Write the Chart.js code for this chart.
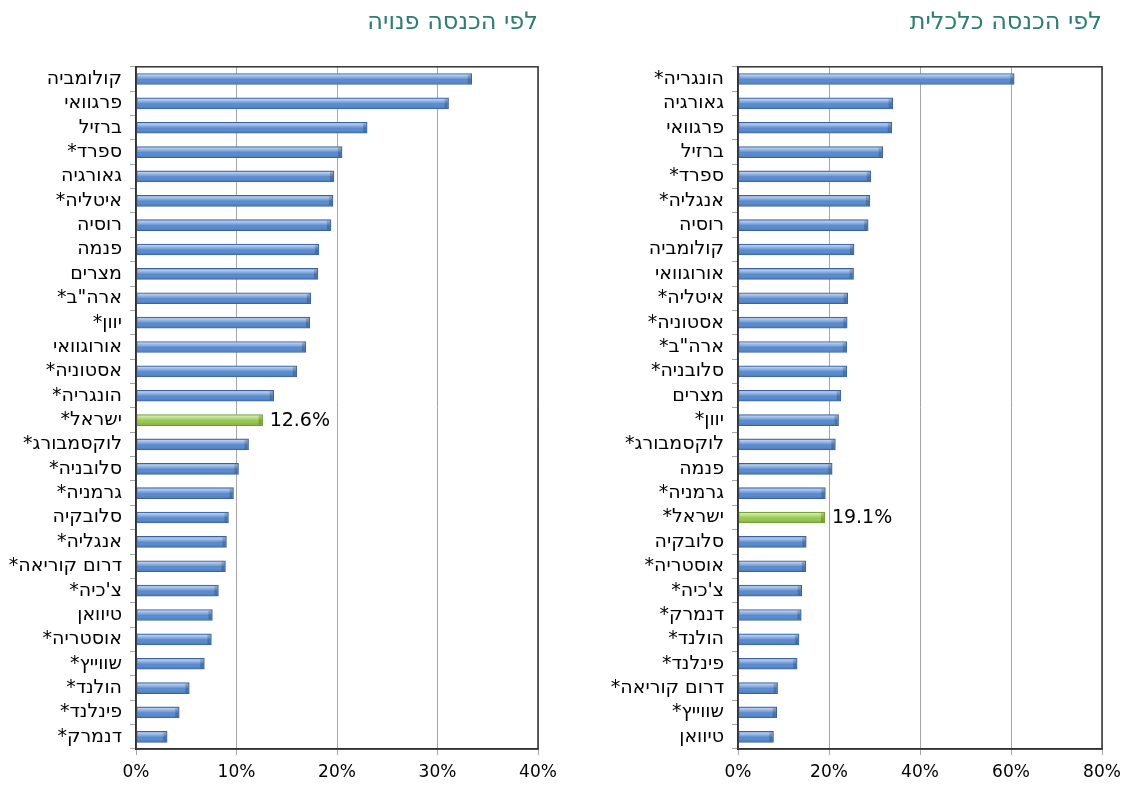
<!DOCTYPE html>
<html>
<head>
<meta charset="utf-8">
<script src="https://cdn.jsdelivr.net/npm/chart.js@4.4.0/dist/chart.umd.min.js"></script>
<style>
  body { margin: 0; background: #fff; overflow: hidden; }
  canvas { position: absolute; top: 0; }
  #disposable { left: 0; }
  #economic { left: 580px; }
</style>
</head>
<body>
<canvas id="disposable" width="560" height="785" dir="rtl"></canvas>
<canvas id="economic" width="547" height="785" dir="rtl"></canvas>
<script>
// לפי הכנסה פנויה
const disposableLabels = ['קולומביה', 'פרגוואי', 'ברזיל', 'ספרד*', 'גאורגיה', 'איטליה*', 'רוסיה', 'פנמה', 'מצרים', 'ארה"ב*',
  'יוון*', 'אורוגוואי', 'אסטוניה*', 'הונגריה*', 'ישראל*', 'לוקסמבורג*', 'סלובניה*', 'גרמניה*', 'סלובקיה', 'אנגליה*',
  'דרום קוריאה*', "צ'כיה*", 'טיוואן', 'אוסטריה*', 'שווייץ*', 'הולנד*', 'פינלנד*', 'דנמרק*'];
const disposableValues = [33.4, 31.1, 23.0, 20.5, 19.7, 19.6, 19.4, 18.2, 18.1, 17.4,
  17.3, 16.9, 16.0, 13.7, 12.6, 11.2, 10.2, 9.7, 9.2, 9.0,
  8.9, 8.2, 7.6, 7.5, 6.8, 5.3, 4.3, 3.1];

// לפי הכנסה כלכלית
const economicLabels = ['הונגריה*', 'גאורגיה', 'פרגוואי', 'ברזיל', 'ספרד*', 'אנגליה*', 'רוסיה', 'קולומביה', 'אורוגוואי', 'איטליה*',
  'אסטוניה*', 'ארה"ב*', 'סלובניה*', 'מצרים', 'יוון*', 'לוקסמבורג*', 'פנמה', 'גרמניה*', 'ישראל*', 'סלובקיה',
  'אוסטריה*', "צ'כיה*", 'דנמרק*', 'הולנד*', 'פינלנד*', 'דרום קוריאה*', 'שווייץ*', 'טיוואן'];
const economicValues = [60.7, 34.0, 33.8, 31.8, 29.2, 29.0, 28.6, 25.5, 25.4, 24.1,
  24.0, 23.9, 23.9, 22.6, 22.1, 21.4, 20.7, 19.2, 19.1, 15.0,
  14.9, 14.0, 13.9, 13.4, 13.0, 8.7, 8.5, 7.8];

const highlight = 'ישראל*';
const FONT = 'DejaVu Sans';

// shine on the bars + border round the plot + label for Israel
const barStyle = {
  id: 'barStyle',
  afterDatasetsDraw(chart) {
    const ctx = chart.ctx;
    const meta = chart.getDatasetMeta(0);
    ctx.save();
    meta.data.forEach((bar, i) => {
      const top = bar.y - bar.height / 2;
      const left = Math.min(bar.base, bar.x);
      const w = Math.abs(bar.x - bar.base);
      const g = ctx.createLinearGradient(0, top, 0, top + bar.height);
      g.addColorStop(0, 'rgba(255,255,255,0.75)');
      g.addColorStop(0.35, 'rgba(255,255,255,0.3)');
      g.addColorStop(0.55, 'rgba(255,255,255,0)');
      g.addColorStop(1, 'rgba(0,0,0,0.22)');
      ctx.fillStyle = g;
      ctx.fillRect(left + 1, top + 1, w - 2, bar.height - 2);
      // little end cap
      ctx.fillStyle = 'rgba(0,0,0,0.18)';
      ctx.fillRect(bar.x - 4, top + 1, 3, bar.height - 2);
    });
    const ca = chart.chartArea;
    ctx.strokeStyle = '#333';
    ctx.lineWidth = 1.5;
    ctx.strokeRect(ca.left, ca.top, ca.right - ca.left, ca.bottom - ca.top);

    const labels = chart.data.labels;
    const idx = labels.indexOf(highlight);
    if (idx >= 0) {
      const bar = meta.data[idx];
      ctx.fillStyle = '#000';
      ctx.font = '19px "' + FONT + '"';
      ctx.textAlign = 'left';
      ctx.textBaseline = 'middle';
      ctx.fillText(chart.data.datasets[0].data[idx].toFixed(1) + '%', bar.x + 7, bar.y + 1);
    }
    ctx.restore();
  }
};

function makeChart(id, title, labels, values, max, step, axisWidth, padRight) {
  new Chart(document.getElementById(id), {
    type: 'bar',
    data: {
      labels: labels,
      datasets: [{
        data: values,
        backgroundColor: labels.map(l => l === highlight ? '#95C84A' : '#5689D0'),
        borderColor: labels.map(l => l === highlight ? '#6E9A2E' : '#3A62A0'),
        borderWidth: 1,
        borderSkipped: false,
        barThickness: 11
      }]
    },
    options: {
      indexAxis: 'y',
      responsive: false,
      animation: false,
      layout: { padding: { left: 0, right: padRight, top: 5, bottom: 0 } },
      plugins: {
        legend: { display: false },
        tooltip: { enabled: false },
        title: {
          display: true,
          text: title,
          align: 'end',
          color: '#2E7D73',
          font: { family: FONT, size: 24, weight: 'normal' },
          padding: { top: 3, bottom: 30 }
        }
      },
      scales: {
        x: {
          min: 0,
          max: max,
          ticks: {
            stepSize: step,
            color: '#000',
            padding: 3,
            font: { family: FONT, size: 17, lineHeight: 1.76 },
            callback: v => v + '%'
          },
          grid: { color: '#a6a6a6', tickLength: 6, tickColor: '#a6a6a6' },
          border: { display: true, color: '#333', width: 1.5 },
          afterFit: scale => { scale.height = 36; }
        },
        y: {
          ticks: {
            color: '#000',
            padding: 8,
            autoSkip: false,
            font: { family: FONT, size: 19 }
          },
          grid: { drawOnChartArea: false, tickLength: 6, color: '#a6a6a6' },
          border: { display: true, color: '#333', width: 1.5 },
          afterFit: scale => { scale.width = axisWidth; }
        }
      }
    },
    plugins: [barStyle]
  });
}

makeChart('disposable', 'לפי הכנסה פנויה', disposableLabels, disposableValues, 40, 10, 136, 22);
makeChart('economic', 'לפי הכנסה כלכלית', economicLabels, economicValues, 80, 20, 158, 25);
</script>
</body>
</html>
